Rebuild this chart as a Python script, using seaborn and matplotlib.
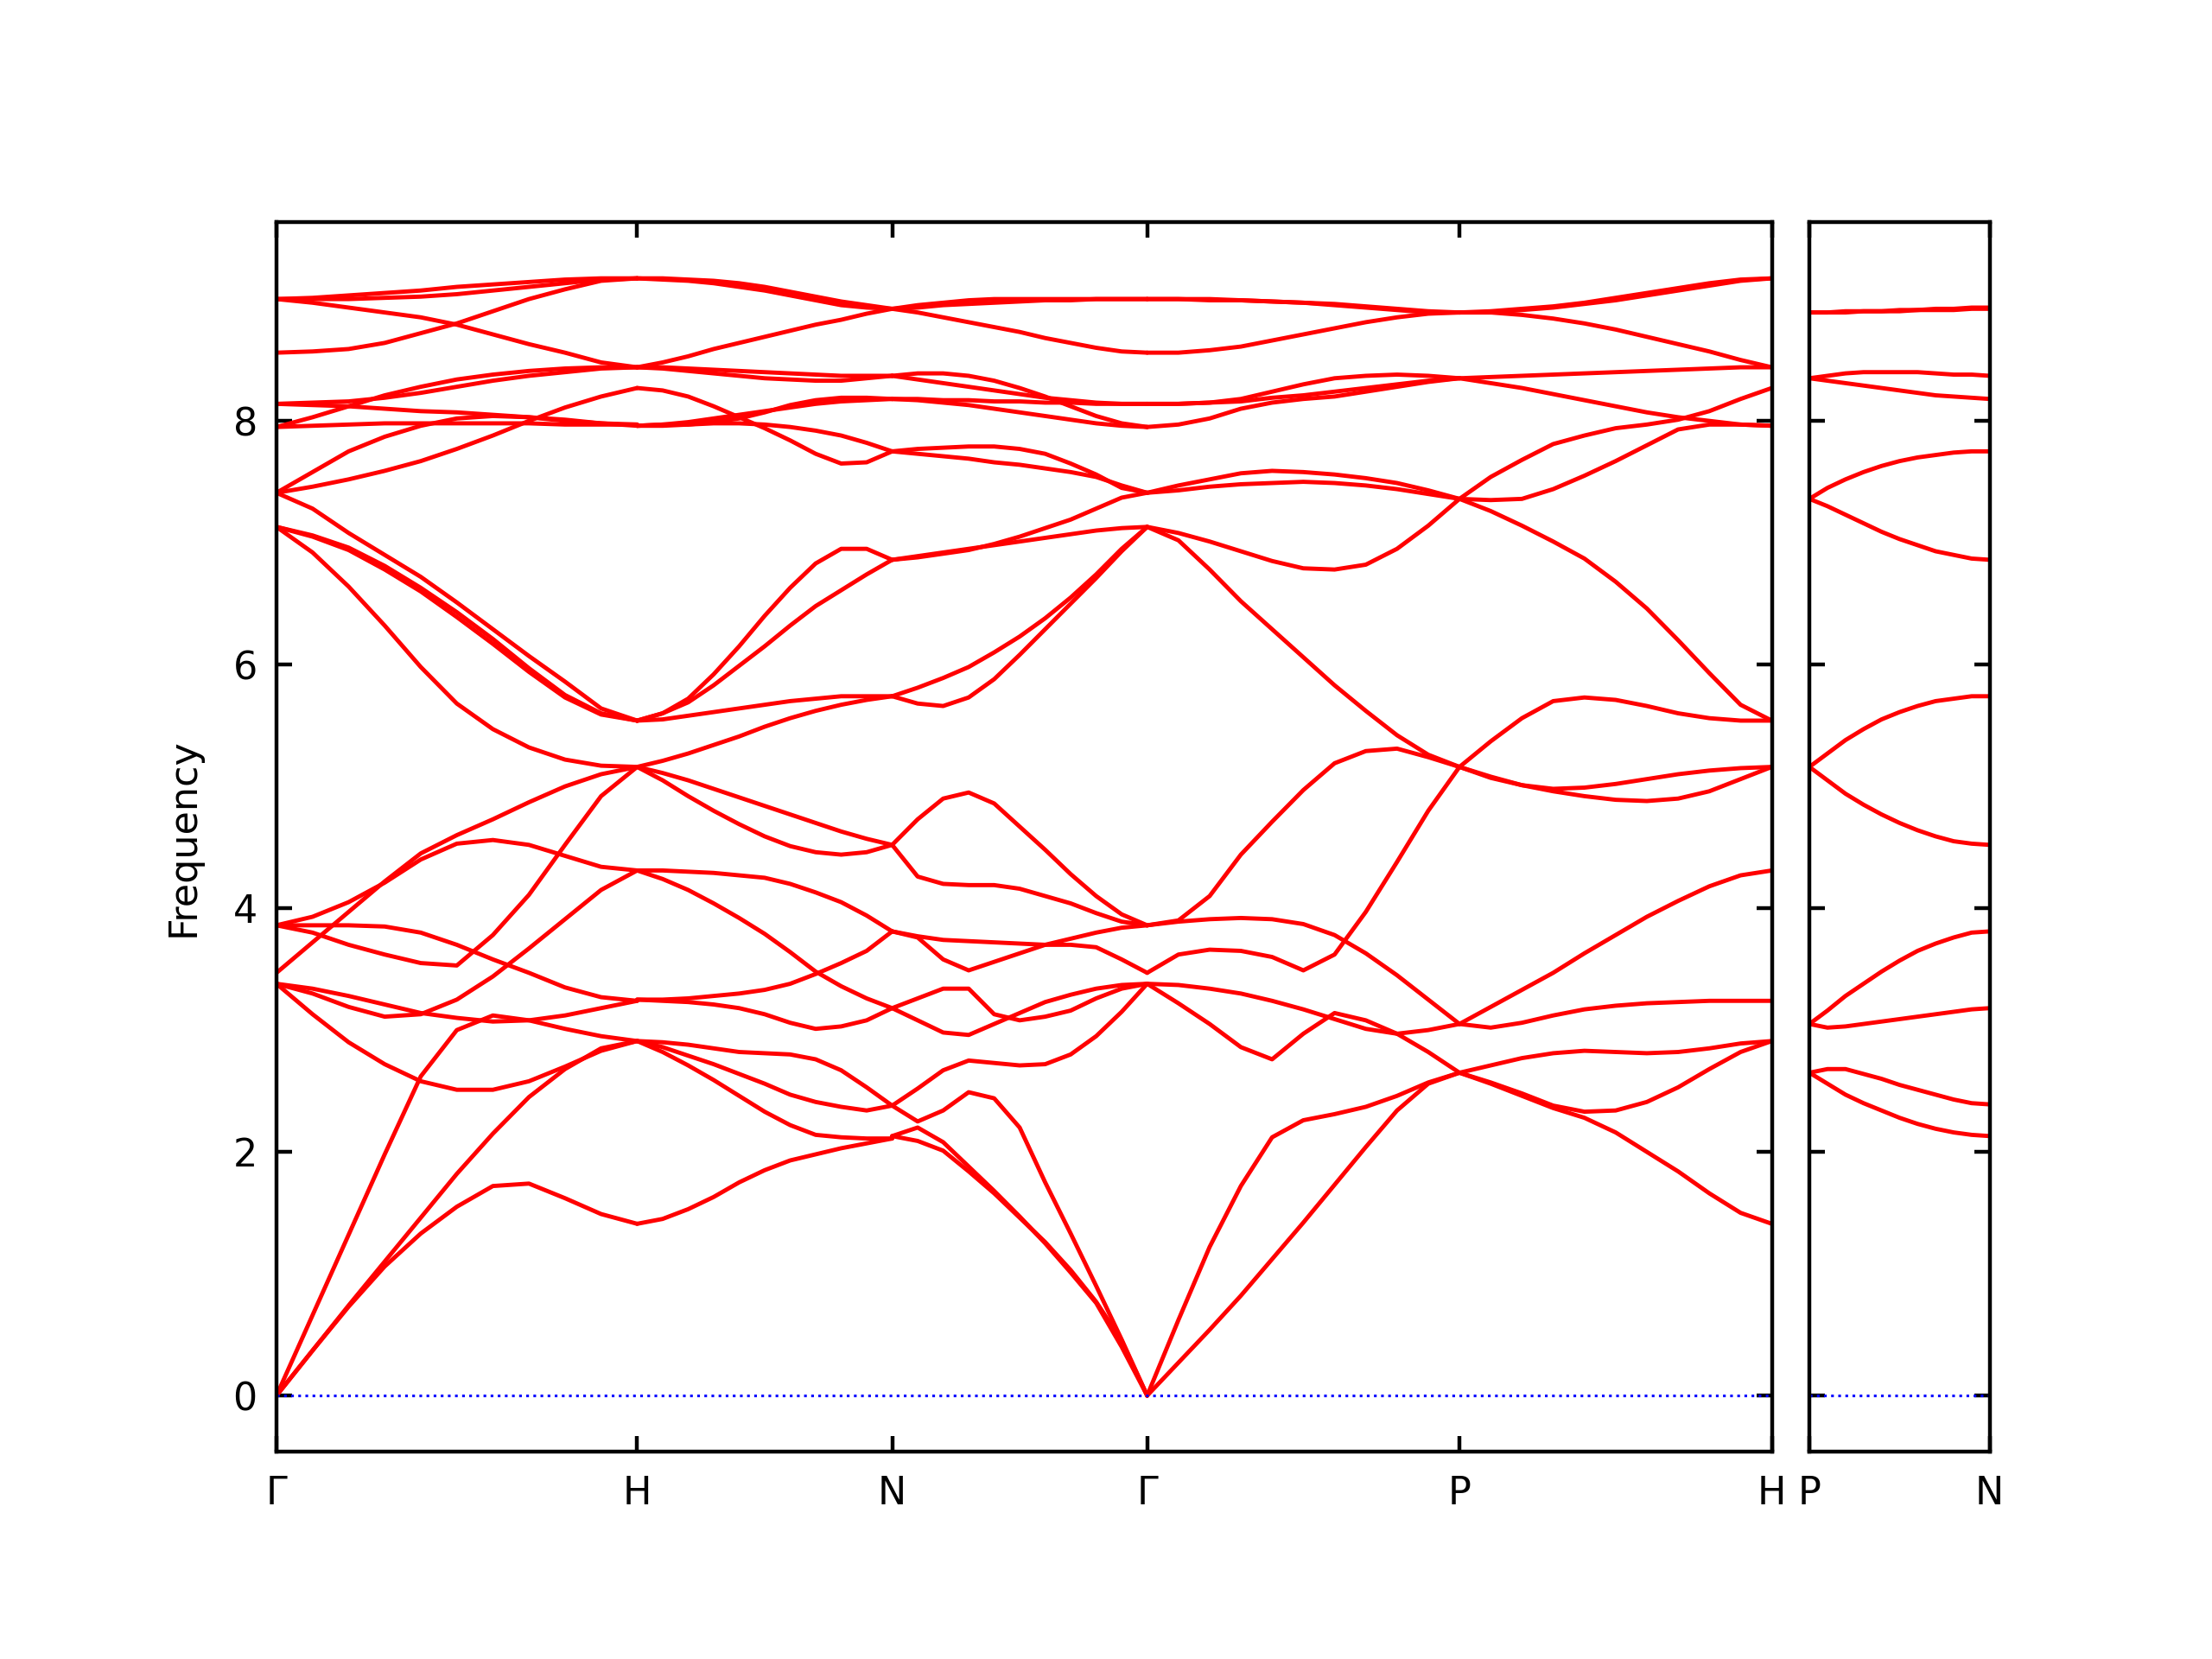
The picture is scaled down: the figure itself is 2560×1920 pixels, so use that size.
import pandas as pd
import seaborn as sns
import matplotlib.pyplot as plt

# fractional position along each path segment where frequencies were read
T = [0.0, 0.1, 0.2, 0.3, 0.4, 0.5, 0.6, 0.7, 0.8, 0.9, 1.0]

# band path (segment lengths in units of 2pi/a, bcc)
MAIN_LABELS = ["Γ", "H", "N", "Γ", "P", "H"]
MAIN_LENGTHS = [1.0, 0.7071, 0.7071, 0.8660, 0.8660]
SIDE_LABELS = ["P", "N"]
SIDE_LENGTHS = [0.5]

GH_BANDS = [
    [9.00, 9.01, 9.03, 9.05, 9.07, 9.10, 9.12, 9.14, 9.16, 9.17, 9.17],
    [9.00, 9.00, 9.00, 9.01, 9.02, 9.04, 9.07, 9.10, 9.13, 9.16, 9.17],
    [9.00, 8.97, 8.93, 8.89, 8.85, 8.79, 8.71, 8.63, 8.56, 8.48, 8.44],
    [8.56, 8.57, 8.59, 8.64, 8.72, 8.80, 8.90, 9.00, 9.08, 9.15, 9.17],
    [7.95, 8.03, 8.12, 8.21, 8.28, 8.34, 8.38, 8.41, 8.43, 8.44, 8.44],
    [8.14, 8.15, 8.16, 8.19, 8.23, 8.28, 8.33, 8.37, 8.40, 8.43, 8.44],
    [8.14, 8.13, 8.12, 8.10, 8.08, 8.07, 8.05, 8.03, 8.00, 7.98, 7.97],
    [7.95, 7.96, 7.97, 7.98, 7.98, 7.98, 7.98, 7.98, 7.97, 7.97, 7.97],
    [7.41, 7.58, 7.75, 7.87, 7.96, 8.02, 8.04, 8.03, 8.01, 7.98, 7.96],
    [7.41, 7.46, 7.52, 7.59, 7.67, 7.77, 7.88, 8.00, 8.11, 8.20, 8.27],
    [7.41, 7.28, 7.08, 6.90, 6.72, 6.51, 6.29, 6.07, 5.86, 5.64, 5.54],
    [7.13, 7.06, 6.96, 6.81, 6.63, 6.43, 6.21, 5.97, 5.75, 5.60, 5.54],
    [7.13, 7.05, 6.94, 6.78, 6.60, 6.39, 6.17, 5.94, 5.73, 5.59, 5.54],
    [7.13, 6.92, 6.64, 6.32, 5.98, 5.68, 5.47, 5.32, 5.22, 5.17, 5.16],
    [3.86, 3.93, 4.05, 4.21, 4.40, 4.53, 4.56, 4.52, 4.43, 4.34, 4.31],
    [3.47, 3.72, 3.97, 4.22, 4.45, 4.60, 4.73, 4.87, 5.00, 5.10, 5.16],
    [3.86, 3.80, 3.70, 3.62, 3.55, 3.53, 3.78, 4.11, 4.52, 4.92, 5.16],
    [3.86, 3.86, 3.86, 3.85, 3.80, 3.70, 3.58, 3.47, 3.35, 3.27, 3.24],
    [3.38, 3.30, 3.19, 3.11, 3.13, 3.25, 3.44, 3.67, 3.91, 4.15, 4.31],
    [3.38, 3.34, 3.28, 3.21, 3.14, 3.10, 3.07, 3.08, 3.12, 3.18, 3.24],
    [3.38, 3.13, 2.90, 2.72, 2.58, 2.51, 2.51, 2.58, 2.70, 2.83, 2.91],
    [0.00, 0.66, 1.32, 1.98, 2.62, 3.00, 3.12, 3.08, 3.01, 2.95, 2.91],
    [0.00, 0.37, 0.74, 1.10, 1.46, 1.82, 2.15, 2.45, 2.68, 2.85, 2.91],
    [0.00, 0.37, 0.73, 1.06, 1.33, 1.55, 1.72, 1.74, 1.62, 1.49, 1.41],
]

HN_BANDS = [
    [9.17, 9.17, 9.16, 9.15, 9.13, 9.10, 9.06, 9.02, 8.98, 8.95, 8.92],
    [9.17, 9.16, 9.15, 9.13, 9.10, 9.07, 9.03, 8.99, 8.95, 8.93, 8.92],
    [8.44, 8.48, 8.53, 8.59, 8.64, 8.69, 8.74, 8.79, 8.83, 8.88, 8.92],
    [8.44, 8.44, 8.43, 8.42, 8.41, 8.40, 8.39, 8.38, 8.37, 8.37, 8.37],
    [8.44, 8.43, 8.41, 8.39, 8.37, 8.35, 8.34, 8.33, 8.33, 8.35, 8.37],
    [8.27, 8.25, 8.20, 8.12, 8.03, 7.94, 7.84, 7.73, 7.65, 7.66, 7.75],
    [7.96, 7.96, 7.97, 7.99, 8.02, 8.07, 8.13, 8.17, 8.19, 8.19, 8.18],
    [7.96, 7.97, 7.99, 8.02, 8.05, 8.08, 8.11, 8.14, 8.16, 8.17, 8.18],
    [7.96, 7.97, 7.97, 7.98, 7.98, 7.97, 7.95, 7.92, 7.88, 7.82, 7.75],
    [5.54, 5.60, 5.72, 5.92, 6.15, 6.40, 6.63, 6.83, 6.95, 6.95, 6.86],
    [5.54, 5.60, 5.69, 5.83, 5.99, 6.15, 6.32, 6.48, 6.61, 6.74, 6.86],
    [5.54, 5.55, 5.58, 5.61, 5.64, 5.67, 5.70, 5.72, 5.74, 5.74, 5.74],
    [5.16, 5.21, 5.27, 5.34, 5.41, 5.49, 5.56, 5.62, 5.67, 5.71, 5.74],
    [5.16, 5.11, 5.05, 4.98, 4.91, 4.84, 4.77, 4.70, 4.63, 4.57, 4.52],
    [5.16, 5.05, 4.92, 4.80, 4.69, 4.59, 4.51, 4.46, 4.44, 4.46, 4.52],
    [4.31, 4.31, 4.30, 4.29, 4.27, 4.25, 4.20, 4.13, 4.05, 3.94, 3.81],
    [4.31, 4.24, 4.15, 4.04, 3.92, 3.79, 3.64, 3.48, 3.36, 3.26, 3.18],
    [3.25, 3.25, 3.26, 3.28, 3.30, 3.33, 3.38, 3.46, 3.55, 3.65, 3.81],
    [3.25, 3.24, 3.23, 3.21, 3.18, 3.13, 3.06, 3.01, 3.03, 3.08, 3.18],
    [2.91, 2.90, 2.88, 2.85, 2.82, 2.81, 2.80, 2.76, 2.67, 2.53, 2.38],
    [2.91, 2.86, 2.79, 2.72, 2.64, 2.56, 2.47, 2.41, 2.37, 2.34, 2.38],
    [2.91, 2.82, 2.71, 2.59, 2.46, 2.33, 2.22, 2.14, 2.12, 2.11, 2.11],
    [1.41, 1.45, 1.53, 1.63, 1.75, 1.85, 1.93, 1.98, 2.03, 2.07, 2.11],
]

NG_BANDS = [
    [8.92, 8.95, 8.97, 8.99, 9.00, 9.00, 9.00, 9.00, 9.00, 9.00, 9.00],
    [8.92, 8.93, 8.95, 8.96, 8.97, 8.98, 8.99, 8.99, 9.00, 9.00, 9.00],
    [8.92, 8.89, 8.85, 8.81, 8.77, 8.73, 8.68, 8.64, 8.60, 8.57, 8.56],
    [8.37, 8.39, 8.39, 8.37, 8.33, 8.27, 8.20, 8.12, 8.04, 7.98, 7.95],
    [8.37, 8.34, 8.31, 8.28, 8.25, 8.22, 8.19, 8.17, 8.15, 8.14, 8.14],
    [8.18, 8.18, 8.17, 8.17, 8.16, 8.16, 8.15, 8.15, 8.14, 8.14, 8.14],
    [8.18, 8.17, 8.15, 8.13, 8.10, 8.07, 8.04, 8.01, 7.98, 7.96, 7.95],
    [7.75, 7.77, 7.78, 7.79, 7.79, 7.77, 7.73, 7.65, 7.56, 7.45, 7.41],
    [7.75, 7.73, 7.71, 7.69, 7.66, 7.64, 7.61, 7.58, 7.54, 7.47, 7.41],
    [6.86, 6.88, 6.91, 6.94, 6.99, 7.05, 7.12, 7.19, 7.28, 7.37, 7.41],
    [6.86, 6.89, 6.92, 6.95, 6.98, 7.01, 7.04, 7.07, 7.10, 7.12, 7.13],
    [5.74, 5.81, 5.89, 5.98, 6.10, 6.23, 6.38, 6.55, 6.74, 6.95, 7.13],
    [5.74, 5.68, 5.66, 5.73, 5.88, 6.08, 6.29, 6.50, 6.71, 6.93, 7.13],
    [4.52, 4.73, 4.90, 4.95, 4.86, 4.67, 4.48, 4.28, 4.10, 3.95, 3.86],
    [4.52, 4.26, 4.20, 4.19, 4.19, 4.16, 4.10, 4.04, 3.96, 3.89, 3.86],
    [3.81, 3.77, 3.74, 3.73, 3.72, 3.71, 3.70, 3.70, 3.68, 3.58, 3.47],
    [3.81, 3.76, 3.58, 3.49, 3.56, 3.63, 3.70, 3.75, 3.80, 3.84, 3.86],
    [3.18, 3.26, 3.34, 3.34, 3.13, 3.08, 3.11, 3.16, 3.26, 3.34, 3.38],
    [3.18, 3.08, 2.98, 2.96, 3.05, 3.14, 3.23, 3.29, 3.34, 3.37, 3.38],
    [2.38, 2.52, 2.67, 2.75, 2.73, 2.71, 2.72, 2.80, 2.95, 3.15, 3.38],
    [2.38, 2.25, 2.34, 2.49, 2.44, 2.20, 1.75, 1.33, 0.90, 0.46, 0.00],
    [2.13, 2.09, 2.01, 1.84, 1.66, 1.46, 1.26, 1.03, 0.77, 0.45, 0.00],
    [2.13, 2.20, 2.08, 1.88, 1.68, 1.47, 1.25, 1.01, 0.76, 0.40, 0.00],
]

GP_BANDS = [
    [9.00, 9.00, 8.99, 8.99, 8.98, 8.97, 8.96, 8.94, 8.92, 8.90, 8.89],
    [9.00, 9.00, 9.00, 8.99, 8.98, 8.97, 8.95, 8.93, 8.91, 8.89, 8.89],
    [8.56, 8.56, 8.58, 8.61, 8.66, 8.71, 8.76, 8.81, 8.85, 8.88, 8.89],
    [8.14, 8.14, 8.15, 8.18, 8.24, 8.30, 8.35, 8.37, 8.38, 8.37, 8.35],
    [8.14, 8.14, 8.15, 8.16, 8.19, 8.21, 8.24, 8.27, 8.30, 8.33, 8.35],
    [7.95, 7.97, 8.02, 8.10, 8.15, 8.18, 8.20, 8.24, 8.28, 8.32, 8.35],
    [7.41, 7.47, 7.52, 7.57, 7.59, 7.58, 7.56, 7.53, 7.49, 7.43, 7.36],
    [7.41, 7.43, 7.46, 7.48, 7.49, 7.50, 7.49, 7.47, 7.44, 7.40, 7.36],
    [7.13, 7.08, 7.01, 6.93, 6.85, 6.79, 6.78, 6.82, 6.95, 7.14, 7.36],
    [7.13, 7.02, 6.78, 6.52, 6.29, 6.06, 5.83, 5.62, 5.42, 5.26, 5.16],
    [3.86, 3.90, 4.10, 4.44, 4.71, 4.97, 5.19, 5.29, 5.31, 5.24, 5.16],
    [3.86, 3.89, 3.91, 3.92, 3.91, 3.87, 3.78, 3.63, 3.45, 3.25, 3.05],
    [3.47, 3.62, 3.66, 3.65, 3.60, 3.49, 3.62, 3.97, 4.38, 4.80, 5.16],
    [3.38, 3.37, 3.34, 3.30, 3.24, 3.17, 3.09, 3.01, 2.97, 3.00, 3.05],
    [3.38, 3.22, 3.05, 2.86, 2.76, 2.97, 3.14, 3.08, 2.97, 2.82, 2.65],
    [0.00, 0.62, 1.22, 1.72, 2.12, 2.26, 2.31, 2.37, 2.46, 2.57, 2.65],
    [0.00, 0.27, 0.54, 0.82, 1.12, 1.42, 1.73, 2.04, 2.34, 2.56, 2.65],
]

PH_BANDS = [
    [8.89, 8.90, 8.92, 8.94, 8.97, 9.01, 9.05, 9.09, 9.13, 9.16, 9.17],
    [8.89, 8.89, 8.91, 8.93, 8.96, 8.99, 9.03, 9.07, 9.11, 9.15, 9.17],
    [8.89, 8.89, 8.87, 8.84, 8.80, 8.75, 8.69, 8.63, 8.57, 8.50, 8.44],
    [8.35, 8.36, 8.37, 8.38, 8.39, 8.40, 8.41, 8.42, 8.43, 8.44, 8.44],
    [8.35, 8.31, 8.27, 8.22, 8.17, 8.12, 8.07, 8.03, 8.00, 7.97, 7.96],
    [7.36, 7.54, 7.68, 7.81, 7.88, 7.94, 7.97, 8.01, 8.08, 8.18, 8.27],
    [7.36, 7.35, 7.36, 7.44, 7.55, 7.67, 7.80, 7.93, 7.97, 7.97, 7.96],
    [7.36, 7.26, 7.14, 7.01, 6.87, 6.68, 6.46, 6.20, 5.93, 5.67, 5.54],
    [5.16, 5.37, 5.56, 5.70, 5.73, 5.71, 5.66, 5.60, 5.56, 5.54, 5.54],
    [5.16, 5.07, 5.01, 4.98, 4.99, 5.02, 5.06, 5.10, 5.13, 5.15, 5.16],
    [5.16, 5.08, 5.01, 4.96, 4.92, 4.89, 4.88, 4.90, 4.96, 5.06, 5.16],
    [3.05, 3.19, 3.33, 3.47, 3.63, 3.78, 3.93, 4.06, 4.18, 4.27, 4.31],
    [3.05, 3.02, 3.06, 3.12, 3.17, 3.20, 3.22, 3.23, 3.24, 3.24, 3.24],
    [2.65, 2.71, 2.77, 2.81, 2.83, 2.82, 2.81, 2.82, 2.85, 2.89, 2.91],
    [2.65, 2.57, 2.48, 2.38, 2.33, 2.34, 2.41, 2.53, 2.68, 2.82, 2.91],
    [2.65, 2.56, 2.46, 2.36, 2.28, 2.16, 2.00, 1.84, 1.66, 1.50, 1.41],
]

PN_BANDS = [
    [8.89, 8.89, 8.90, 8.90, 8.90, 8.91, 8.91, 8.92, 8.92, 8.93, 8.93],
    [8.89, 8.89, 8.89, 8.90, 8.90, 8.90, 8.91, 8.91, 8.91, 8.92, 8.92],
    [8.35, 8.37, 8.39, 8.40, 8.40, 8.40, 8.40, 8.39, 8.38, 8.38, 8.37],
    [8.35, 8.33, 8.31, 8.29, 8.27, 8.25, 8.23, 8.21, 8.20, 8.19, 8.18],
    [7.36, 7.45, 7.52, 7.58, 7.63, 7.67, 7.70, 7.72, 7.74, 7.75, 7.75],
    [7.36, 7.30, 7.23, 7.16, 7.09, 7.03, 6.98, 6.93, 6.90, 6.87, 6.86],
    [5.16, 5.27, 5.38, 5.47, 5.55, 5.61, 5.66, 5.70, 5.72, 5.74, 5.74],
    [5.16, 5.05, 4.94, 4.85, 4.77, 4.70, 4.64, 4.59, 4.55, 4.53, 4.52],
    [3.05, 3.16, 3.28, 3.38, 3.48, 3.57, 3.65, 3.71, 3.76, 3.80, 3.81],
    [3.05, 3.02, 3.03, 3.05, 3.07, 3.09, 3.11, 3.13, 3.15, 3.17, 3.18],
    [2.65, 2.68, 2.68, 2.64, 2.60, 2.55, 2.51, 2.47, 2.43, 2.40, 2.39],
    [2.65, 2.56, 2.47, 2.40, 2.34, 2.28, 2.23, 2.19, 2.16, 2.14, 2.13],
]


def path_frame(segments, lengths):
    rows = []
    start = 0.0
    for s, (bands, length) in enumerate(zip(segments, lengths)):
        for b, band in enumerate(bands):
            for t, f in zip(T, band):
                rows.append({"x": start + t * length, "freq": f, "curve": f"{s}-{b}"})
        start += length
    return pd.DataFrame(rows)


main_df = path_frame([GH_BANDS, HN_BANDS, NG_BANDS, GP_BANDS, PH_BANDS], MAIN_LENGTHS)
side_df = path_frame([PN_BANDS], SIDE_LENGTHS)

main_ticks = [0.0]
for length in MAIN_LENGTHS:
    main_ticks.append(main_ticks[-1] + length)
side_ticks = [0.0, SIDE_LENGTHS[0]]

sns.set_style("ticks", {"axes.edgecolor": "black", "xtick.color": "black",
                        "ytick.color": "black", "text.color": "black",
                        "axes.labelcolor": "black"})

fig = plt.figure(figsize=(8, 6), dpi=320)
ax1 = fig.add_axes([0.125, 0.125, 0.676, 0.741])
ax2 = fig.add_axes([0.818, 0.125, 0.0815, 0.741])

for ax, df, ticks, labels in [(ax1, main_df, main_ticks, MAIN_LABELS),
                              (ax2, side_df, side_ticks, SIDE_LABELS)]:
    sns.lineplot(data=df, x="x", y="freq", units="curve", estimator=None,
                 sort=False, color="red", linewidth=1.1, ax=ax)
    ax.axhline(0, color="blue", linestyle=":", linewidth=0.7)
    ax.set_xlim(ticks[0], ticks[-1])
    ax.set_ylim(-0.46, 9.63)
    ax.set_xticks(ticks)
    ax.set_xticklabels(labels)
    ax.set_yticks([0, 2, 4, 6, 8])
    ax.tick_params(axis="both", direction="in", top=True, right=True,
                   length=4, width=1.0, labelsize=10)
    ax.tick_params(axis="x", pad=6)
    ax.tick_params(axis="y", pad=5)
    ax.set_xlabel("")
    ax.set_ylabel("")
    for sp in ax.spines.values():
        sp.set_linewidth(1.0)

ax1.set_ylabel("Frequency", labelpad=8)
ax2.set_yticklabels([])

fig.savefig("out.png", dpi=320)
